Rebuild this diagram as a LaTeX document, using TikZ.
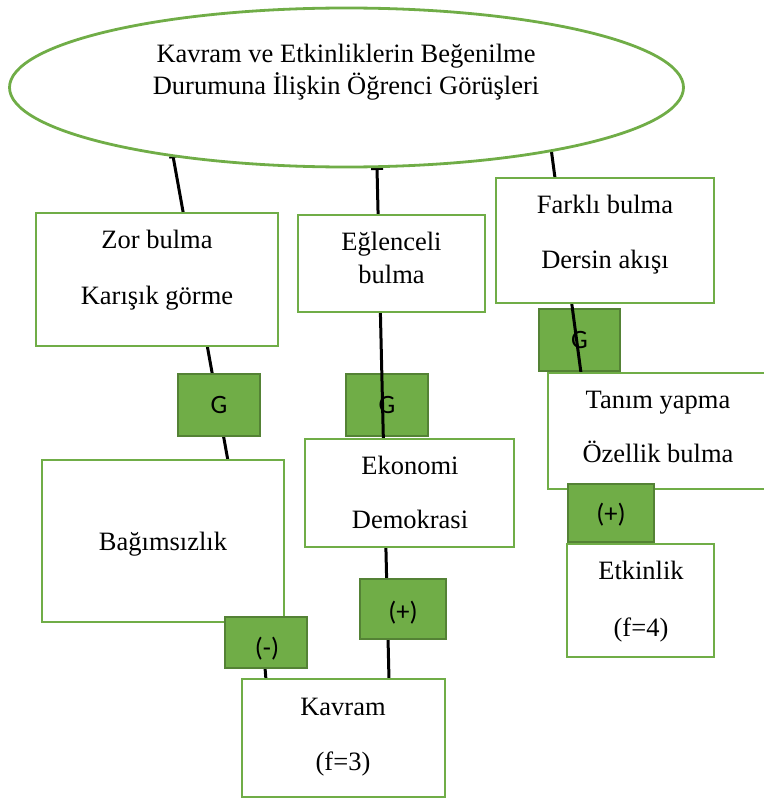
\documentclass[tikz,border=0pt]{standalone}
\usepackage{fontspec}
\setmainfont{Liberation Serif}
\newfontfamily\calibrilike{Carlito}
\usetikzlibrary{shapes.geometric,arrows.meta}
\definecolor{boxgreen}{RGB}{112,173,71}
\definecolor{darkgreen}{RGB}{84,130,53}
\begin{document}
\begin{tikzpicture}[x=1pt,y=-1pt,
  card/.style={draw=boxgreen,line width=2.8pt,fill=white,rectangle,inner sep=0pt},
  tag/.style={draw=darkgreen,line width=2.8pt,fill=boxgreen,rectangle,inner sep=0pt},
  txt/.style={font=\fontsize{26.5}{30}\selectfont,inner sep=0pt,text height=17.5pt,text depth=0pt},
  tagtxt/.style={font=\calibrilike\fontsize{26.5}{30}\selectfont,inner sep=0pt,text height=17pt,text depth=0pt},
  link/.style={line width=3pt,black}]
\useasboundingbox (0,0) rectangle (763,800);

% end points of the connectors
\coordinate (l1a) at (173,156);
\coordinate (l1b) at (228,461);
\coordinate (l2a) at (377,168);
\coordinate (l2b) at (389,680);
\coordinate (l3a) at (551,148);
\coordinate (l3b) at (581,373);
\coordinate (l4a) at (262,630);
\coordinate (l4b) at (266,680);

% left connector, hidden behind the boxes it passes
\draw[link,{Bar[width=8pt,line width=2pt]}-] (l1a) -- (l1b);
\draw[link] (l4a) -- (l4b);

% tags that lie under their connector
\node[tag,minimum width=82pt,minimum height=62pt] (g2) at (387,405) {};
\node[tagtxt] (g2t) at (387,405) {G};
\node[tag,minimum width=81pt,minimum height=62pt] (g3) at (579.5,340) {};
\node[tagtxt] (g3t) at (579.5,340) {G};

\draw[link,{Bar[width=12pt,line width=2pt]}-] (l2a) -- (l2b);
\draw[link] (l3a) -- (l3b);

% title
\node[ellipse,draw=boxgreen,line width=2.8pt,fill=white,minimum width=674pt,minimum height=159pt,inner sep=0pt] (title) at (346.5,87.5) {};
\node[txt] (title1) at (346,54) {Kavram ve Etkinliklerin Beğenilme};
\node[txt] (title2) at (346,86) {Durumuna İlişkin Öğrenci Görüşleri};

% first row
\node[card,minimum width=242pt,minimum height=133pt] (zor) at (157,279.5) {};
\node[txt] (zor1) at (157,240) {Zor bulma};
\node[txt] (zor2) at (157,296) {Karışık görme};

\node[card,minimum width=187pt,minimum height=97pt] (egl) at (391.5,263.5) {};
\node[txt] (egl1) at (391.5,242) {Eğlenceli};
\node[txt] (egl2) at (391.5,275) {bulma};

\node[card,minimum width=218pt,minimum height=125pt] (far) at (605,240.5) {};
\node[txt] (far1) at (605,205) {Farklı bulma};
\node[txt] (far2) at (605,260) {Dersin akışı};

% left column
\node[tag,minimum width=82pt,minimum height=62pt] (g1) at (219,405) {};
\node[tagtxt] (g1t) at (219,405) {G};

\node[card,minimum width=242pt,minimum height=162pt] (bag) at (163,541) {};
\node[txt] (bag1) at (163,542) {Bağımsızlık};

\node[tag,minimum width=82pt,minimum height=51pt] (neg) at (266,642.5) {};
\node[tagtxt] (negt) at (267,648) {(-)};

% middle column
\node[card,minimum width=209pt,minimum height=108pt] (eko) at (409.5,493) {};
\node[txt] (eko1) at (410,466) {Ekonomi};
\node[txt] (eko2) at (410,520) {Demokrasi};

\node[tag,minimum width=86pt,minimum height=60pt] (pos1) at (403,609) {};
\node[tagtxt] (pos1t) at (403,612) {(+)};

\node[card,minimum width=203pt,minimum height=118pt] (kav) at (343.5,738) {};
\node[txt] (kav1) at (343,707) {Kavram};
\node[txt] (kav2) at (343,762) {(f=3)};

% right column
\node[card,minimum width=227pt,minimum height=116pt] (tan) at (661.5,431) {};
\node[txt] (tan1) at (658,400) {Tanım yapma};
\node[txt] (tan2) at (658,454) {Özellik bulma};

\node[tag,minimum width=86pt,minimum height=58pt] (pos2) at (611,513) {};
\node[tagtxt] (pos2t) at (611,514) {(+)};

\node[card,minimum width=147pt,minimum height=113pt] (etk) at (640.5,600.5) {};
\node[txt] (etk1) at (641,571) {Etkinlik};
\node[txt] (etk2) at (641,628) {(f=4)};
\end{tikzpicture}
\end{document}
